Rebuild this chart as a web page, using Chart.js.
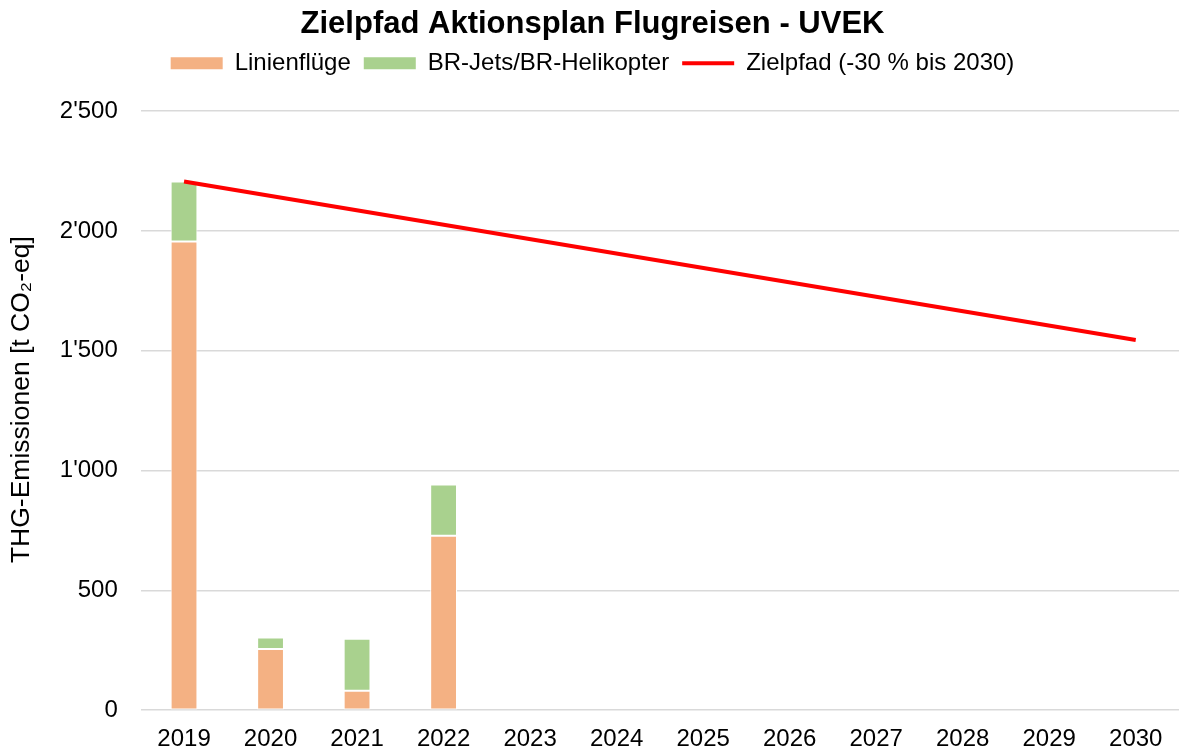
<!DOCTYPE html>
<html>
<head>
<meta charset="utf-8">
<script src="https://cdn.jsdelivr.net/npm/chart.js@4/dist/chart.umd.min.js"></script>
<style>
  html, body { margin: 0; padding: 0; background: #fff; }
  #wrap { width: 1179px; height: 752px; position: relative; }
</style>
</head>
<body>
<div id="wrap"><canvas id="c" width="1179" height="752"></canvas></div>
<script>
const categories = ['2019','2020','2021','2022','2023','2024','2025','2026','2027','2028','2029','2030'];
const linienfluege = [1956, 255, 81, 728, null, null, null, null, null, null, null, null];
const brJetsHeli = [251, 48, 217, 214, null, null, null, null, null, null, null, null];
const zielpfad = [2207, null, null, null, null, null, null, null, null, null, null, 1545];
const yTickLabels = ['0', '500', "1'000", "1'500", "2'000", "2'500"];
const seriesNames = ['Linienflüge', 'BR-Jets/BR-Helikopter', 'Zielpfad (-30 % bis 2030)'];

const FONT = "'Liberation Sans', Arial, sans-serif";

const legendHeight = {
  id: 'legendHeight',
  afterInit(chart) {
    const lg = chart.legend;
    if (!lg) return;
    const fit = lg.fit;
    lg.fit = function () { fit.call(this); this.height = 73; };
  }
};

const chart = new Chart(document.getElementById('c'), {
  type: 'bar',
  data: {
    labels: categories,
    datasets: [
      {
        label: seriesNames[0],
        data: linienfluege,
        backgroundColor: '#F4B183',
        borderColor: '#ffffff',
        borderWidth: 1,
        borderSkipped: false,
        stack: 'bars',
        order: 2
      },
      {
        label: seriesNames[1],
        data: brJetsHeli,
        backgroundColor: '#A9D18E',
        borderColor: '#ffffff',
        borderWidth: 1,
        borderSkipped: false,
        stack: 'bars',
        order: 2
      },
      {
        type: 'line',
        label: seriesNames[2],
        data: zielpfad,
        borderColor: '#FF0000',
        backgroundColor: '#FF0000',
        borderWidth: 4,
        pointRadius: 0,
        spanGaps: true,
        stack: 'line',
        order: 0
      }
    ]
  },
  plugins: [legendHeight],
  options: {
    responsive: false,
    animation: false,
    layout: { padding: { left: 6, right: 0, top: 4, bottom: -9 } },
    datasets: {
      bar: { categoryPercentage: 0.31, barPercentage: 1.0 }
    },
    plugins: {
      title: {
        display: true,
        text: 'Zielpfad Aktionsplan Flugreisen - UVEK',
        color: '#000',
        font: { family: FONT, size: 31, weight: 'bold' },
        padding: { top: 2, bottom: -5 }
      },
      legend: {
        display: true,
        position: 'top',
        labels: {
          color: '#000',
          font: { family: FONT, size: 24 },
          usePointStyle: true,
          pointStyleWidth: 52,
          boxHeight: 12,
          padding: 13,
          generateLabels: (ch) => ch.data.datasets.map((ds, i) => ({
            text: ds.label,
            fillStyle: ds.type === 'line' ? ds.borderColor : ds.backgroundColor,
            strokeStyle: ds.type === 'line' ? ds.borderColor : ds.backgroundColor,
            lineWidth: ds.type === 'line' ? 4 : 0,
            pointStyle: ds.type === 'line' ? 'line' : 'rect',
            hidden: !ch.isDatasetVisible(i),
            datasetIndex: i,
            fontColor: '#000'
          }))
        }
      },
      tooltip: { enabled: false }
    },
    scales: {
      x: {
        stacked: true,
        grid: { display: false, tickLength: 8 },
        border: { display: false },
        ticks: { color: '#000', font: { family: FONT, size: 24 }, padding: 7, maxRotation: 0 }
      },
      y: {
        stacked: true,
        min: 0,
        max: 2500,
        grid: { color: '#d9d9d9', lineWidth: 1.5, drawTicks: false },
        border: { display: false },
        ticks: {
          stepSize: 500,
          color: '#000',
          font: { family: FONT, size: 24 },
          padding: 23,
          callback: (v, i) => yTickLabels[i]
        },
        title: {
          display: true,
          text: '   THG-Emissionen [t CO₂-eq]',
          color: '#000',
          font: { family: FONT, size: 26.5 },
          padding: { top: 0, bottom: -1 }
        }
      }
    }
  }
});
</script>
</body>
</html>
